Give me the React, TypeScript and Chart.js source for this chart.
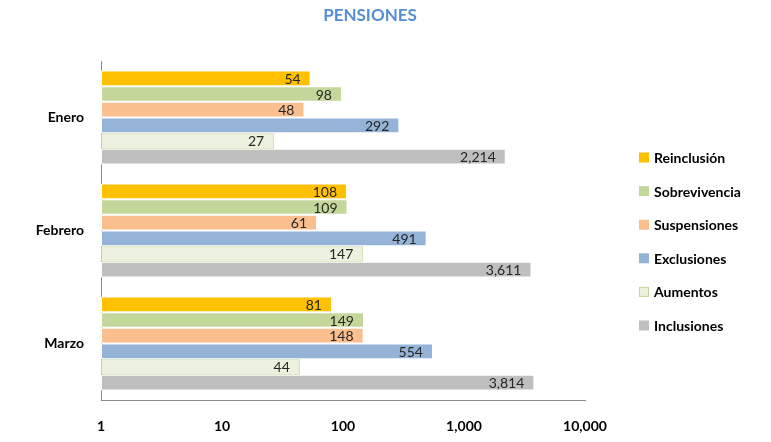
import React, { useEffect, useRef } from "react";
import { Chart, registerables } from "chart.js";

Chart.register(...registerables);

const categories = ["Enero", "Febrero", "Marzo"];
const seriesNames = ["Reinclusión", "Sobrevivencia", "Suspensiones", "Exclusiones", "Aumentos", "Inclusiones"];
const reinclusion = [54, 108, 81];
const sobrevivencia = [98, 109, 149];
const suspensiones = [48, 61, 148];
const exclusiones = [292, 491, 554];
const aumentos = [27, 147, 44];
const inclusiones = [2214, 3611, 3814];
const tickValues = [1, 10, 100, 1000, 10000];
const titleText = "PENSIONES";

const fills = ["#FFC000", "#C4D79B", "#FABF8F", "#95B3D7", "#EBF1DE", "#BFBFBF"];
const borders = ["#FFFFFF", "#FFFFFF", "#FFFFFF", "#FFFFFF", "#C4D79B", "#FFFFFF"];

const FONT = "Lato, 'Open Sans', sans-serif";

const labelPlugin = {
  id: "barLabels",
  afterDatasetsDraw(chart: any) {
    const ctx = chart.ctx;
    ctx.save();
    ctx.font = `14px ${FONT}`;
    ctx.fillStyle = "#262626";
    ctx.textAlign = "right";
    ctx.textBaseline = "middle";
    chart.data.datasets.forEach((ds: any, i: number) => {
      const meta = chart.getDatasetMeta(i);
      meta.data.forEach((bar: any, j: number) => {
        const v = ds.data[j];
        ctx.fillText(Number(v).toLocaleString("en-US"), bar.x - 10, bar.y + 1);
      });
    });
    ctx.restore();
  },
};

const titlePlugin = {
  id: "customTitle",
  afterDraw(chart: any) {
    const ctx = chart.ctx;
    ctx.save();
    ctx.font = `bold 17px ${FONT}`;
    ctx.fillStyle = "#558ED5";
    ctx.textAlign = "center";
    ctx.textBaseline = "middle";
    ctx.fillText(titleText, 362, 8);
    ctx.restore();
  },
};

const legendPlugin = {
  id: "customLegend",
  afterDraw(chart: any) {
    const ctx = chart.ctx;
    const area = chart.chartArea;
    const n = chart.data.datasets.length;
    const spacing = 33.6;
    const midY = (area.top + area.bottom) / 2 + 11;
    const startY = midY - ((n - 1) * spacing) / 2;
    const boxX = area.right + 54;
    ctx.save();
    ctx.font = `bold 14px ${FONT}`;
    ctx.textAlign = "left";
    ctx.textBaseline = "middle";
    chart.data.datasets.forEach((ds: any, i: number) => {
      const y = startY + i * spacing;
      ctx.fillStyle = ds.backgroundColor;
      ctx.fillRect(boxX, y - 5, 10, 10);
      if (ds.borderColor !== "#FFFFFF") {
        ctx.strokeStyle = ds.borderColor;
        ctx.lineWidth = 1;
        ctx.strokeRect(boxX + 0.5, y - 4.5, 9, 9);
      }
      ctx.fillStyle = "#000000";
      ctx.fillText(ds.label, boxX + 15, y + 1);
    });
    ctx.restore();
  },
};

export default function App() {
  const ref = useRef<HTMLCanvasElement>(null);
  useEffect(() => {
    if (!ref.current) return;
    const seriesData = [reinclusion, sobrevivencia, suspensiones, exclusiones, aumentos, inclusiones];
    const chart = new Chart(ref.current, {
      type: "bar",
      data: {
        labels: categories,
        datasets: seriesNames.map((name, i) => ({
          label: name,
          data: seriesData[i],
          backgroundColor: fills[i],
          borderColor: borders[i],
          borderWidth: 1,
          borderSkipped: false,
          categoryPercentage: 0.83,
          barPercentage: 1.0,
        })),
      },
      options: {
        indexAxis: "y",
        animation: false,
        responsive: true,
        maintainAspectRatio: false,
        layout: { padding: { top: 53, right: 178, left: 0, bottom: 0 } },
        scales: {
          x: {
            type: "logarithmic",
            min: 1,
            max: 10000,
            afterBuildTicks: (scale: any) => {
              scale.ticks = tickValues.map((v) => ({ value: v }));
            },
            afterFit: (scale: any) => {
              scale.height = 34;
            },
            grid: { display: false, drawTicks: false },
            border: { display: true, color: "#8C8C8C", width: 1 },
            ticks: {
              autoSkip: false,
              maxRotation: 0,
              padding: 18,
              color: "#000000",
              font: { family: FONT, size: 14, weight: "bold" },
              callback: (v: any) => Number(v).toLocaleString("en-US"),
            },
          },
          y: {
            afterFit: (scale: any) => {
              scale.width = 93;
            },
            grid: { display: false, drawTicks: false },
            border: { display: true, color: "#8C8C8C", width: 1 },
            ticks: {
              padding: 17,
              color: "#000000",
              font: { family: FONT, size: 14, weight: "bold" },
            },
          },
        },
        plugins: {
          title: { display: false },
          tooltip: { enabled: false },
          legend: { display: false },
        },
      },
      plugins: [labelPlugin, titlePlugin, legendPlugin],
    });
    return () => chart.destroy();
  }, []);
  return (
    <div style={{ width: 755, height: 426, position: "relative" }}>
      <canvas ref={ref} />
    </div>
  );
}
